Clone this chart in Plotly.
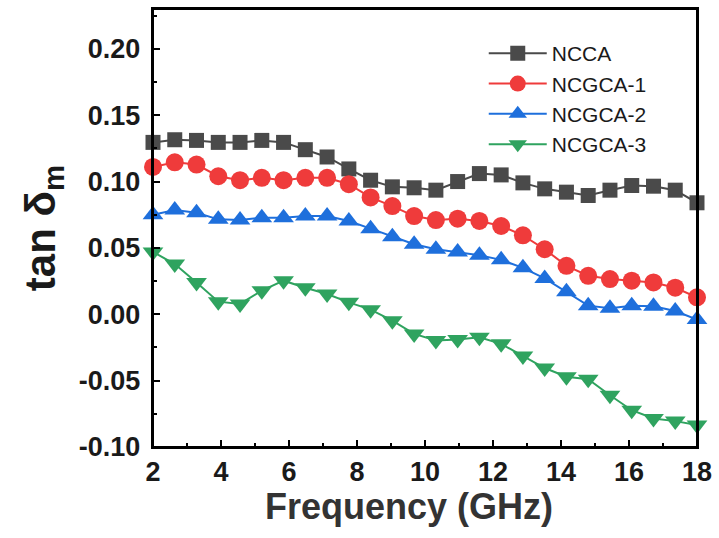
import plotly.graph_objects as go

freq = [2.00, 2.64, 3.28, 3.92, 4.56, 5.20, 5.84, 6.48, 7.12, 7.76, 8.40, 9.04, 9.68,
        10.32, 10.96, 11.60, 12.24, 12.88, 13.52, 14.16, 14.80, 15.44, 16.08, 16.72, 17.36, 18.00]

ncca = [0.1295, 0.1315, 0.131, 0.1295, 0.1295, 0.131, 0.1295, 0.124, 0.1185, 0.1095, 0.101, 0.096, 0.0953,
        0.0935, 0.100, 0.106, 0.105, 0.099, 0.0945, 0.092, 0.0895, 0.0935, 0.097, 0.0965, 0.0935, 0.084]
ncgca1 = [0.111, 0.1145, 0.1128, 0.104, 0.101, 0.1028, 0.101, 0.1028, 0.1028, 0.098, 0.088, 0.0815, 0.074,
          0.071, 0.072, 0.0703, 0.0665, 0.0595, 0.049, 0.0365, 0.029, 0.0265, 0.0253, 0.024, 0.020, 0.0128]
ncgca2 = [0.075, 0.0785, 0.0765, 0.0715, 0.071, 0.0728, 0.0728, 0.074, 0.074, 0.0703, 0.0645, 0.0585, 0.0528,
          0.049, 0.047, 0.0445, 0.041, 0.035, 0.027, 0.017, 0.0065, 0.0045, 0.0065, 0.006, 0.0025, -0.004]
ncgca3 = [0.047, 0.0378, 0.024, 0.0095, 0.0078, 0.0178, 0.0253, 0.020, 0.0153, 0.009, 0.0035, -0.0048, -0.0148,
          -0.0198, -0.019, -0.0173, -0.0223, -0.0315, -0.0405, -0.047, -0.049, -0.061, -0.0723, -0.0785, -0.0805, -0.0835]

x_ticks = [2, 4, 6, 8, 10, 12, 14, 16, 18]
x_minor = [3, 5, 7, 9, 11, 13, 15, 17]
y_ticks = [-0.10, -0.05, 0.00, 0.05, 0.10, 0.15, 0.20]
y_labels = ["-0.10", "-0.05", "0.00", "0.05", "0.10", "0.15", "0.20"]
y_minor = [-0.075, -0.025, 0.025, 0.075, 0.125, 0.175, 0.225]

series = [
    ("NCCA", ncca, "#4a4a4a", "square", 15),
    ("NCGCA-1", ncgca1, "#ef3b3b", "circle", 18),
    ("NCGCA-2", ncgca2, "#1e6fdc", "triangle-up", 18),
    ("NCGCA-3", ncgca3, "#2fa35f", "triangle-down", 18),
]

FONT = "Liberation Sans, Arial, sans-serif"

fig = go.Figure()
for name, ys, col, sym, sz in series:
    fig.add_trace(go.Scatter(
        x=freq, y=ys, name=name, mode="lines+markers",
        line=dict(color=col, width=2),
        marker=dict(symbol=sym, size=sz, color=col, line=dict(width=0)),
        cliponaxis=False,
    ))

axis_common = dict(
    showline=True, linecolor="black", linewidth=2, mirror=True,
    ticks="inside", ticklen=7, tickwidth=2, tickcolor="black",
    showgrid=False, zeroline=False,
    tickfont=dict(family=FONT, size=27, color="#1a1a1a"),
)

fig.update_layout(
    width=719, height=538,
    margin=dict(l=153, r=21, t=7, b=91),
    plot_bgcolor="white", paper_bgcolor="white",
    showlegend=True,
    legend=dict(
        x=0.608, y=0.945, xanchor="left", yanchor="top",
        bgcolor="rgba(0,0,0,0)", borderwidth=0,
        font=dict(family=FONT, size=21, color="#1a1a1a"),
        itemwidth=58, tracegroupgap=0,
    ),
    xaxis=dict(
        range=[2, 18], tickmode="array", tickvals=x_ticks,
        ticktext=["<b>%d</b>" % v for v in x_ticks],
        minor=dict(tickmode="array", tickvals=x_minor,
                   ticks="inside", ticklen=4, tickwidth=2, tickcolor="black"),
        **axis_common,
    ),
    yaxis=dict(
        range=[-0.10, 0.23], tickmode="array", tickvals=y_ticks,
        ticktext=["<b>%s</b>\u2009" % s for s in y_labels],
        minor=dict(tickmode="array", tickvals=y_minor,
                   ticks="inside", ticklen=4, tickwidth=2, tickcolor="black"),
        title=dict(text="<b>tan δ<sub>m</sub></b>", standoff=10,
                   font=dict(family=FONT, size=42, color="#1a1a1a")),
        **axis_common,
    ),
    shapes=[dict(type="rect", xref="paper", yref="paper", x0=0, y0=0, x1=1, y1=1,
                 line=dict(color="black", width=2), layer="above")],
    annotations=[dict(text="<b>Frequency (GHz)</b>", xref="paper", yref="paper",
                      x=0.47, y=-0.136, xanchor="center", yanchor="middle", showarrow=False,
                      font=dict(family=FONT, size=36, color="#333333"))],
)

fig.write_html(
    "out.html",
    config={"displayModeBar": False},
    post_script="document.body.style.margin='0';document.body.style.overflow='hidden';",
)
